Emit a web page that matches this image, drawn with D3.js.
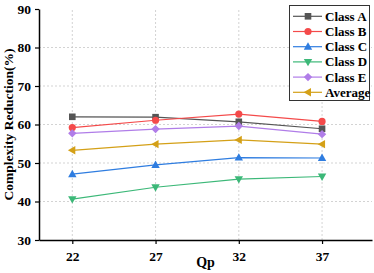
<!DOCTYPE html>
<html>
<head>
<meta charset="utf-8">
<script src="https://cdn.jsdelivr.net/npm/d3@7"></script>
<style>
  body { margin: 0; background: #fff; }
  text { font-family: "Liberation Serif", "Times New Roman", serif; font-weight: bold; }
</style>
</head>
<body>
<div id="chart"></div>
<script>
// chart data
var qp = [22, 27, 32, 37];
var seriesNames = ["Class A", "Class B", "Class C", "Class D", "Class E", "Average"];
var classA = [62.0, 61.9, 60.7, 58.9];
var classB = [59.2, 61.1, 62.7, 60.8];
var classC = [47.1, 49.5, 51.4, 51.3];
var classD = [40.6, 43.7, 45.8, 46.5];
var classE = [57.7, 58.8, 59.6, 57.5];
var average = [53.3, 54.9, 56.0, 54.9];
var yTicks = [30, 40, 50, 60, 70, 80, 90];

var colors = ["#555555", "#f44a4a", "#2f7de0", "#3cb878", "#b07de8", "#d4a017"];
var symbols = ["square", "circle", "up", "down", "diamond", "left"];
var allSeries = [classA, classB, classC, classD, classE, average];

var width = 374, height = 273;
var margin = {left: 39, right: 2, top: 9, bottom: 33};

var svg = d3.select("#chart").append("svg")
  .attr("width", width)
  .attr("height", height);

var x = d3.scaleLinear().domain([20, 40]).range([margin.left, width - margin.right]);
var y = d3.scaleLinear().domain([30, 90]).range([height - margin.bottom, margin.top]);

// grid lines
svg.append("g").selectAll("line.gx")
  .data(qp).enter().append("line")
  .attr("x1", d => x(d)).attr("x2", d => x(d))
  .attr("y1", y(30)).attr("y2", y(90))
  .attr("stroke", "#c8c8c8").attr("stroke-dasharray", "2,2").attr("stroke-width", 0.8);
svg.append("g").selectAll("line.gy")
  .data(yTicks.slice(1, -1)).enter().append("line")
  .attr("x1", x(20)).attr("x2", x(40))
  .attr("y1", d => y(d)).attr("y2", d => y(d))
  .attr("stroke", "#c8c8c8").attr("stroke-dasharray", "2,2").attr("stroke-width", 0.8);

// axes
var xAxis = svg.append("g")
  .attr("transform", "translate(0," + y(30) + ")")
  .call(d3.axisBottom(x).tickValues(qp).tickSize(4).tickSizeOuter(0));
var yAxis = svg.append("g")
  .attr("transform", "translate(" + x(20) + ",0)")
  .call(d3.axisLeft(y).tickValues(yTicks).tickSize(4).tickSizeOuter(0));

[xAxis, yAxis].forEach(function(a) {
  a.select(".domain").attr("stroke", "#000").attr("stroke-width", 1.5);
  a.selectAll(".tick line").attr("stroke", "#000").attr("stroke-width", 1.2);
  a.selectAll(".tick text").attr("fill", "#000")
    .style("font-size", "13.5px").style("font-weight", "bold")
    .style("font-family", "'Liberation Serif', serif");
});
xAxis.selectAll(".tick text").attr("dy", "1.05em");
yAxis.selectAll(".tick text").attr("dx", "-1px");

// markers
function marker(sel, type, color) {
  var s = 3.3;
  if (type === "square") {
    sel.append("rect").attr("x", -s).attr("y", -s).attr("width", 2 * s).attr("height", 2 * s).attr("fill", color);
  } else if (type === "circle") {
    sel.append("circle").attr("r", 3.6).attr("fill", color);
  } else if (type === "diamond") {
    sel.append("path").attr("d", "M0,-4.2L4.2,0L0,4.2L-4.2,0Z").attr("fill", color);
  } else {
    var pts = {
      up: "M0,-4.4L4.2,3L-4.2,3Z",
      down: "M0,4.4L4.2,-3L-4.2,-3Z",
      left: "M-4.4,0L3,-4.2L3,4.2Z"
    };
    sel.append("path").attr("d", pts[type]).attr("fill", color);
  }
}

var line = d3.line().x((d, i) => x(qp[i])).y(d => y(d));

allSeries.forEach(function(vals, k) {
  svg.append("path")
    .datum(vals)
    .attr("d", line)
    .attr("fill", "none")
    .attr("stroke", colors[k])
    .attr("stroke-width", 1.2);
  svg.append("g").selectAll("g")
    .data(vals).enter().append("g")
    .attr("transform", (d, i) => "translate(" + x(qp[i]) + "," + y(d) + ")")
    .each(function() { marker(d3.select(this), symbols[k], colors[k]); });
});

// legend
var lg = svg.append("g");
lg.append("rect")
  .attr("x", 289.5).attr("y", 5.5).attr("width", 80).attr("height", 95)
  .attr("fill", "#fff").attr("stroke", "#333").attr("stroke-width", 1);
seriesNames.forEach(function(name, k) {
  var cy = 16.3 + k * 15.2;
  lg.append("line").attr("x1", 293).attr("x2", 322).attr("y1", cy).attr("y2", cy)
    .attr("stroke", colors[k]).attr("stroke-width", 1.2);
  var m = lg.append("g").attr("transform", "translate(308," + cy + ")");
  marker(m, symbols[k], colors[k]);
  lg.append("text").attr("x", 325).attr("y", cy + 4.5)
    .style("font-size", "13px").text(name);
});

// axis titles
svg.append("text")
  .attr("x", x(30)).attr("y", 267)
  .attr("text-anchor", "middle")
  .style("font-size", "14px")
  .text("Qp");
svg.append("text")
  .attr("transform", "translate(13," + y(60) + ") rotate(-90)")
  .attr("text-anchor", "middle")
  .style("font-size", "13.5px")
  .text("Complexity Reduction(%)");
</script>
</body>
</html>
